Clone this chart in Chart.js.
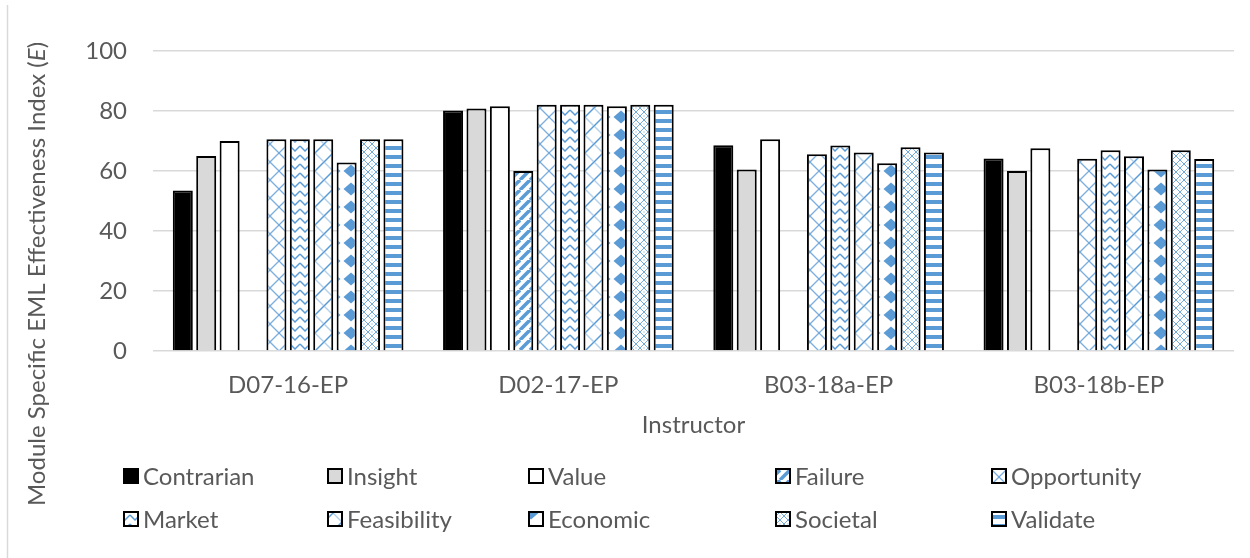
<!DOCTYPE html>
<html>
<head>
<meta charset="utf-8">
<script src="https://cdn.jsdelivr.net/npm/chart.js@4.4.1/dist/chart.umd.min.js"></script>
<style>
  html, body { margin: 0; padding: 0; background: #fff; }
</style>
</head>
<body>
<canvas id="effChart" width="1250" height="558"></canvas>
<script>
// Data
const instructors = ['D07-16-EP', 'D02-17-EP', 'B03-18a-EP', 'B03-18b-EP'];
const contrarian  = [53.5, 80.2, 68.6, 64.2];
const insight     = [65.0, 80.8, 60.5, 60.0];
const valueMod    = [70.0, 81.6, 70.6, 67.6];
const failure     = [null, 60.0, null, null];
const opportunity = [70.6, 82.1, 65.6, 64.1];
const market      = [70.6, 82.1, 68.5, 66.9];
const feasibility = [70.6, 82.1, 66.2, 64.9];
const economic    = [62.8, 81.6, 62.6, 60.5];
const societal    = [70.6, 82.1, 67.9, 66.9];
const validate    = [70.6, 82.1, 66.2, 64.0];
const yTicks = [0, 20, 40, 60, 80, 100];

const blue = '#5b9bd5';
const textGray = '#595959';
const fontFamily = 'Lato, Calibri, sans-serif';

const canvas = document.getElementById('effChart');
const ctx = canvas.getContext('2d');

// small tiles for the Excel style pattern fills
function tile(w, h, paint) {
    const c = document.createElement('canvas');
    c.width = w; c.height = h;
    const g = c.getContext('2d');
    g.fillStyle = '#fff';
    g.fillRect(0, 0, w, h);
    g.strokeStyle = blue;
    g.fillStyle = blue;
    paint(g, w, h);
    return ctx.createPattern(c, 'repeat');
}

function diag(g, w, h, up) {
    for (let k = -1; k <= 1; k++) {
        g.beginPath();
        if (up) { g.moveTo(k * w, h); g.lineTo(k * w + w, 0); }
        else { g.moveTo(k * w, 0); g.lineTo(k * w + w, h); }
        g.stroke();
    }
}

const patFailure = tile(10, 10, (g, w, h) => { g.lineWidth = 3.5; diag(g, w, h, true); });
const patOpportunity = tile(18, 18, (g, w, h) => {
    g.lineWidth = 1.3; g.globalAlpha = 0.8;
    diag(g, w, h, true); diag(g, w, h, false);
});
const patMarket = tile(10, 9, (g) => {
    g.lineWidth = 1.5;
    g.beginPath(); g.moveTo(0, 2); g.lineTo(5, 7); g.lineTo(10, 2); g.stroke();
});
const patFeasibility = tile(18, 18, (g, w, h) => {
    g.lineWidth = 1.5; diag(g, w, h, true);
    g.globalAlpha = 0.45; diag(g, w, h, false);
});
const patEconomic = tile(18, 18, (g) => {
    g.beginPath();
    g.moveTo(9, 2.5); g.lineTo(16.5, 9); g.lineTo(9, 15.5); g.lineTo(1.5, 9);
    g.closePath(); g.fill();
});
const patSocietal = tile(8, 8, (g) => {
    g.lineWidth = 1; g.globalAlpha = 0.85;
    g.beginPath();
    g.moveTo(4, 0); g.lineTo(8, 4); g.lineTo(4, 8); g.lineTo(0, 4); g.closePath();
    g.stroke();
    g.fillRect(3.5, 3.5, 1, 1);
});
const patValidate = tile(9, 9, (g) => { g.fillRect(0, 2, 9, 4); });

function series(label, data, fill, border) {
    return {
        label: label,
        data: data,
        backgroundColor: fill,
        borderColor: border || '#000',
        borderWidth: 2,
        borderSkipped: 'bottom',
        categoryPercentage: 0.866,
        barPercentage: 0.855
    };
}

const datasets = [
    series('Contrarian', contrarian, '#000'),
    series('Insight', insight, '#d9d9d9'),
    series('Value', valueMod, '#fff'),
    series('Failure', failure, patFailure),
    series('Opportunity', opportunity, patOpportunity),
    series('Market', market, patMarket),
    series('Feasibility', feasibility, patFeasibility),
    series('Economic', economic, patEconomic),
    series('Societal', societal, patSocietal),
    series('Validate', validate, patValidate)
];

// left frame line, rotated y title with italic E, and the legend grid
const legendCols = [123, 327, 528, 775, 991];
const legendRows = [476, 519];

const extras = {
    id: 'extras',
    beforeDraw(chart) {
        const c = chart.ctx;
        c.save();
        c.strokeStyle = '#d9d9d9';
        c.lineWidth = 1.5;
        c.beginPath(); c.moveTo(7.5, 5); c.lineTo(7.5, 558); c.stroke();
        c.restore();
    },
    afterDraw(chart) {
        const c = chart.ctx;
        c.save();
        // y axis title
        const parts = [
            { t: 'Module Specific EML Effectiveness Index (', f: '24px ' + fontFamily },
            { t: 'E', f: 'italic 24px ' + fontFamily },
            { t: ')', f: '24px ' + fontFamily }
        ];
        let total = 0;
        parts.forEach(p => { c.font = p.f; p.w = c.measureText(p.t).width; total += p.w; });
        c.translate(37, 274);
        c.rotate(-Math.PI / 2);
        c.fillStyle = textGray;
        c.textBaseline = 'middle';
        c.textAlign = 'left';
        let x = -total / 2;
        parts.forEach(p => { c.font = p.f; c.fillText(p.t, x, 0); x += p.w; });
        c.restore();

        // legend
        c.save();
        c.font = '24px ' + fontFamily;
        c.textBaseline = 'middle';
        chart.data.datasets.forEach((ds, i) => {
            const bx = legendCols[i % 5];
            const cy = legendRows[Math.floor(i / 5)];
            c.fillStyle = ds.backgroundColor;
            c.fillRect(bx, cy - 8, 16, 16);
            c.strokeStyle = ds.borderColor;
            c.lineWidth = 2;
            c.strokeRect(bx + 1, cy - 7, 14, 14);
            c.fillStyle = textGray;
            c.fillText(ds.label, bx + 20, cy + 1);
        });
        c.restore();
    }
};

function build() {
    new Chart(ctx, {
        type: 'bar',
        data: { labels: instructors, datasets: datasets },
        plugins: [extras],
        options: {
            responsive: false,
            animation: false,
            devicePixelRatio: 1,
            layout: { padding: { left: 0, right: 16, top: 51, bottom: 107 } },
            plugins: {
                legend: { display: false },
                tooltip: { enabled: false }
            },
            scales: {
                x: {
                    grid: { display: false },
                    border: { display: false },
                    ticks: {
                        color: textGray,
                        font: { family: fontFamily, size: 24 },
                        padding: 12,
                        maxRotation: 0
                    },
                    title: {
                        display: true,
                        text: 'Instructor',
                        color: textGray,
                        font: { family: fontFamily, size: 24 },
                        padding: { top: 0, bottom: 11 }
                    },
                    afterFit: scale => { scale.height = 100; }
                },
                y: {
                    min: 0,
                    max: 100,
                    grid: { color: '#d9d9d9', lineWidth: 1.5, drawTicks: false },
                    border: { display: false },
                    ticks: {
                        color: textGray,
                        font: { family: fontFamily, size: 24 },
                        padding: 26
                    },
                    afterBuildTicks: axis => { axis.ticks = yTicks.map(v => ({ value: v })); },
                    afterFit: scale => { scale.width = 153; }
                }
            }
        }
    });
}

document.fonts.load('24px Lato').then(build, build);
</script>
</body>
</html>
